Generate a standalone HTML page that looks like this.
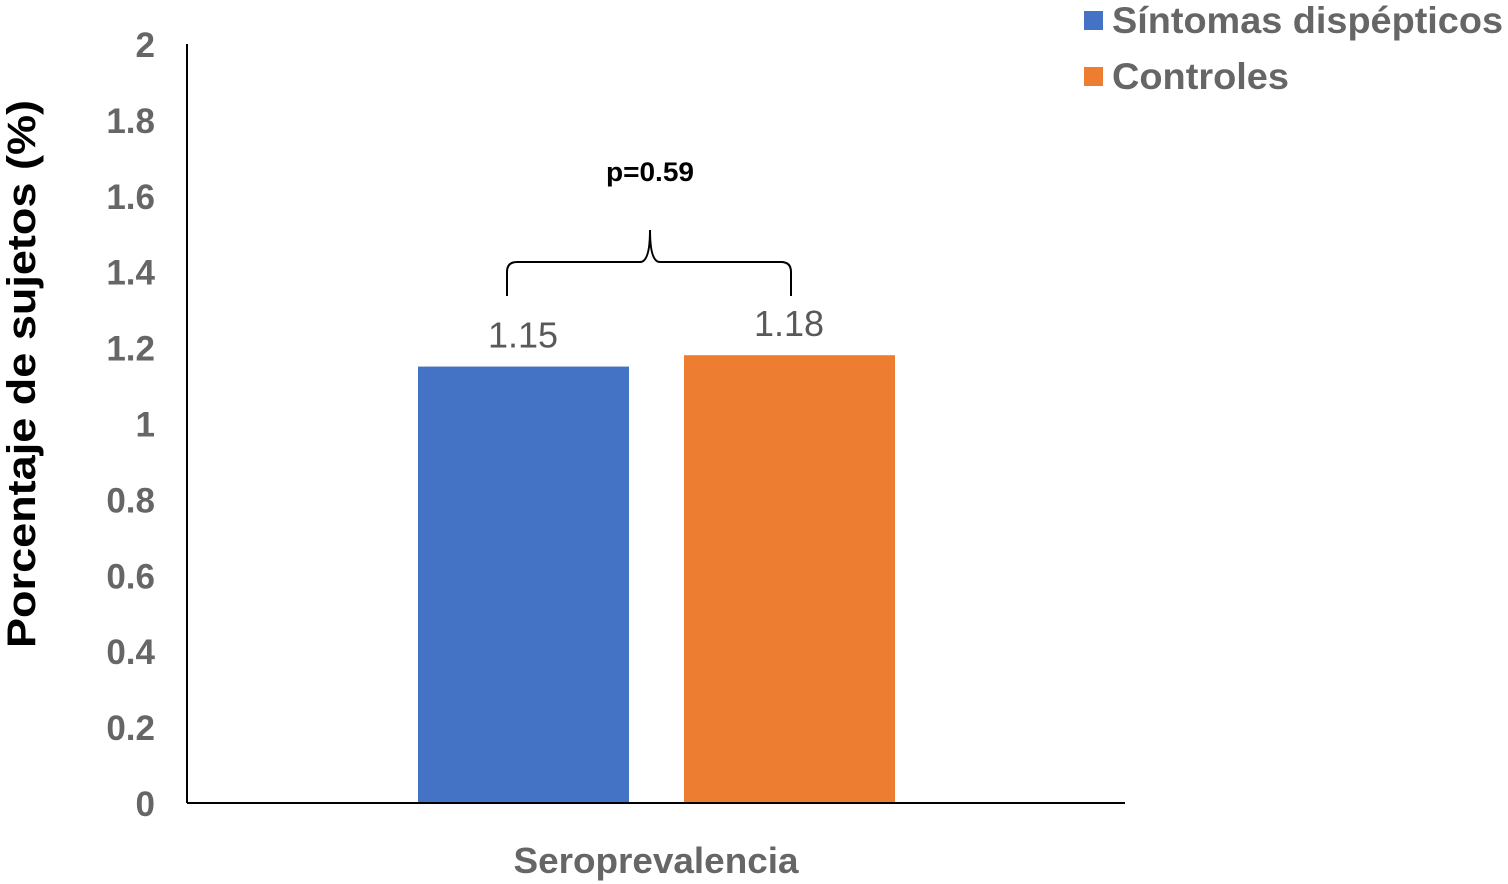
<!DOCTYPE html>
<html><head><meta charset="utf-8"><style>
html,body{margin:0;padding:0;background:#fff;}
svg{display:block;font-family:"Liberation Sans",Arial,sans-serif;}
</style></head><body>
<svg id="chart" width="1508" height="884" viewBox="0 0 1508 884">
<g id="yticks"></g>
<line x1="187" y1="44" x2="187" y2="803" stroke="#000" stroke-width="2"/>
<g id="bars"></g>
<line x1="187" y1="803" x2="1125" y2="803" stroke="#000" stroke-width="2"/>
<text x="22" y="374" transform="rotate(-90 22 374)" text-anchor="middle" dominant-baseline="central" font-size="40" font-weight="bold" fill="#000" textLength="548" lengthAdjust="spacingAndGlyphs">Porcentaje de sujetos (%)</text>
<text x="656" y="873" text-anchor="middle" font-size="36" font-weight="bold" fill="#666" textLength="285" lengthAdjust="spacingAndGlyphs">Seroprevalencia</text>
<path d="M507,296 L507,272 Q507,262 517,262 L640,262 Q650,262 650,230 Q650,262 660,262 L781,262 Q791,262 791,272 L791,296" fill="none" stroke="#000" stroke-width="2"/>
<text x="650" y="181" text-anchor="middle" font-size="27" font-weight="bold" fill="#000" textLength="88" lengthAdjust="spacingAndGlyphs">p=0.59</text>
<g>
<rect x="1084" y="11" width="19" height="19" fill="#4472C4"/>
<text x="1112" y="33" font-size="37" font-weight="bold" fill="#666" textLength="391" lengthAdjust="spacingAndGlyphs">Síntomas dispépticos</text>
<rect x="1084" y="67" width="19" height="19" fill="#ED7D31"/>
<text x="1112" y="89" font-size="37" font-weight="bold" fill="#666" textLength="177" lengthAdjust="spacingAndGlyphs">Controles</text>
</g>
</svg>
<script>
const tickValues=[0,0.2,0.4,0.6,0.8,1,1.2,1.4,1.6,1.8,2];
const tickLabels=["0","0.2","0.4","0.6","0.8","1","1.2","1.4","1.6","1.8","2"];
const seriesNames=["Síntomas dispépticos","Controles"];
const seriesValues=[1.15,1.18];
const valueLabels=["1.15","1.18"];
const colors=["#4472C4","#ED7D31"];
const NS="http://www.w3.org/2000/svg";
function yScale(v){return 803-(v/2)*759;}
function xBar(i){return 418+i*266;}
const yt=document.getElementById('yticks');
tickValues.forEach((v,i)=>{
  const t=document.createElementNS(NS,'text');
  t.setAttribute('x',155);t.setAttribute('y',yScale(v)+13);
  t.setAttribute('text-anchor','end');t.setAttribute('font-size','35');
  t.setAttribute('font-weight','bold');t.setAttribute('fill','#666');
  t.textContent=tickLabels[i];
  
  
  yt.appendChild(t);
});
const bg=document.getElementById('bars');
seriesValues.forEach((v,i)=>{
  const r=document.createElementNS(NS,'rect');
  r.setAttribute('x',xBar(i));r.setAttribute('width',211);
  r.setAttribute('y',yScale(v));r.setAttribute('height',803-yScale(v));
  r.setAttribute('fill',colors[i]);
  
  
  bg.appendChild(r);
  const t=document.createElementNS(NS,'text');
  t.setAttribute('x',xBar(i)+105);t.setAttribute('y',yScale(v)-19);
  t.setAttribute('text-anchor','middle');t.setAttribute('font-size','36');
  t.setAttribute('fill','#595959');
  t.textContent=valueLabels[i];
  
  
  bg.appendChild(t);
});
</script>
</body></html>
